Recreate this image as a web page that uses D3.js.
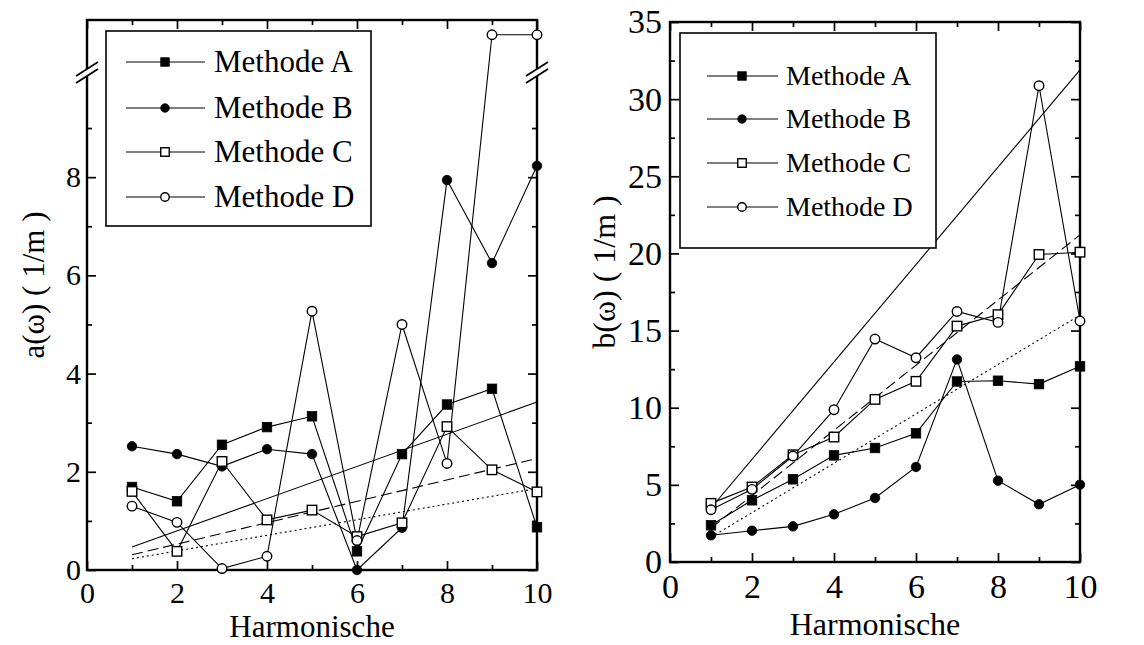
<!DOCTYPE html>
<html>
<head>
<meta charset="utf-8">
<script src="https://cdn.jsdelivr.net/npm/d3@7"></script>
<style>
  html, body { margin: 0; padding: 0; background: #fff; }
  svg { display: block; }
  svg text { font-family: "Liberation Serif", "Times New Roman", Times, Tinos, "DejaVu Serif", serif !important; fill: #000; }
</style>
</head>
<body>
<svg id="chart" width="1144" height="645"></svg>
<script>
// ---------------- data ----------------
const harmonics = [1, 2, 3, 4, 5, 6, 7, 8, 9, 10];
const methods = ["Methode A", "Methode B", "Methode C", "Methode D"];
const markerTypes = ["filledSquare", "filledCircle", "openSquare", "openCircle"];

// left panel: a(ω)
const aMethodA = [1.69, 1.40, 2.55, 2.91, 3.13, 0.38, 2.36, 3.37, 3.69, 0.87];
const aMethodB = [2.52, 2.36, 2.11, 2.46, 2.36, 0.00, 0.86, 7.94, 6.25, 8.23];
const aMethodC = [1.60, 0.38, 2.21, 1.02, 1.22, 0.68, 0.96, 2.92, 2.04, 1.59];
const aMethodD = [1.30, 0.97, 0.03, 0.28, 5.27, 0.60, 5.00, 2.17, 10.9, 10.9];
const aFitSolid = [[1, 0.47], [10, 3.42]];
const aFitDashed = [[1, 0.31], [10, 2.27]];
const aFitDotted = [[1, 0.23], [10, 1.66]];
const aMajorTicks = [0, 2, 4, 6, 8];
const aMinorTicks = [1, 3, 5, 7, 9];

// right panel: b(ω)
const bMethodA = [2.38, 4.00, 5.36, 6.91, 7.39, 8.34, 11.70, 11.75, 11.53, 12.68];
const bMethodB = [1.73, 2.03, 2.31, 3.09, 4.15, 6.16, 13.13, 5.27, 3.74, 5.01];
const bMethodC = [3.80, 4.86, 6.95, 8.10, 10.54, 11.71, 15.29, 16.03, 19.93, 20.08];
const bMethodD = [3.39, 4.71, 6.87, 9.87, 14.45, 13.24, 16.24, 15.53, 30.87, 15.62];
const bFitSolid = [[1, 3.5], [10, 31.9]];
const bFitDashed = [[1, 2.2], [10, 21.2]];
const bFitDotted = [[1, 1.6], [10, 16.0]];
const bMajorTicks = [0, 5, 10, 15, 20, 25, 30, 35];
const bMinorTicks = [2.5, 7.5, 12.5, 17.5, 22.5, 27.5, 32.5];

const xMajorTicks = [0, 2, 4, 6, 8, 10];
const xMinorTicks = [1, 3, 5, 7, 9];

// ---------------- drawing ----------------
const FONT = '"Liberation Serif", "Times New Roman", Times, Tinos, "DejaVu Serif", serif';
const svg = d3.select("#chart");

function drawMarker(g, type, x, y, s) {
  const filled = type.startsWith("filled");
  if (type.endsWith("Square")) {
    g.append("rect").attr("x", x - s / 2).attr("y", y - s / 2)
      .attr("width", s).attr("height", s)
      .attr("fill", filled ? "#000" : "#fff")
      .attr("stroke", "#000").attr("stroke-width", filled ? 0.8 : 1.4);
  } else {
    g.append("circle").attr("cx", x).attr("cy", y).attr("r", s / 2)
      .attr("fill", filled ? "#000" : "#fff")
      .attr("stroke", "#000").attr("stroke-width", filled ? 0.8 : 1.4);
  }
}

function panel(cfg) {
  const g = svg.append("g").attr("font-family", FONT);
  const x = d3.scaleLinear().domain([0, 10]).range([cfg.left, cfg.right]);
  const y = d3.scaleLinear().domain(cfg.yDomain).range([cfg.bottom, cfg.top]);

  const bottomMajor = d3.axisBottom(x).tickValues(xMajorTicks).tickSize(-9).tickPadding(cfg.xPad).tickFormat(d3.format("d"));
  const bottomMinor = d3.axisBottom(x).tickValues(xMinorTicks).tickSize(-5).tickFormat("");
  const topMajor = d3.axisTop(x).tickValues(xMajorTicks).tickSize(-9).tickFormat("");
  const topMinor = d3.axisTop(x).tickValues(xMinorTicks).tickSize(-5).tickFormat("");
  const leftMajor = d3.axisLeft(y).tickValues(cfg.yMajor).tickSize(-9).tickPadding(cfg.yPad).tickFormat(d3.format("d"));
  const leftMinor = d3.axisLeft(y).tickValues(cfg.yMinor).tickSize(-5).tickFormat("");
  const rightMajor = d3.axisRight(y).tickValues(cfg.yMajor).tickSize(-9).tickFormat("");
  const rightMinor = d3.axisRight(y).tickValues(cfg.yMinor).tickSize(-5).tickFormat("");

  const axes = [
    [bottomMajor, `translate(0,${cfg.bottom})`], [bottomMinor, `translate(0,${cfg.bottom})`],
    [topMajor, `translate(0,${cfg.top})`], [topMinor, `translate(0,${cfg.top})`],
    [leftMajor, `translate(${cfg.left},0)`], [leftMinor, `translate(${cfg.left},0)`],
    [rightMajor, `translate(${cfg.right},0)`], [rightMinor, `translate(${cfg.right},0)`]
  ];
  axes.forEach(([ax, tr]) => {
    const a = g.append("g").attr("transform", tr).call(ax);
    a.attr("font-family", FONT).attr("font-size", cfg.tickFont);
    a.select(".domain").remove();
    a.selectAll(".tick line").attr("stroke", "#000").attr("stroke-width", 1.7);
    a.selectAll(".tick text").attr("font-size", cfg.tickFont).attr("fill", "#000");
  });

  g.append("rect").attr("x", cfg.left).attr("y", cfg.top)
    .attr("width", cfg.right - cfg.left).attr("height", cfg.bottom - cfg.top)
    .attr("fill", "none").attr("stroke", "#000").attr("stroke-width", 2.4);

  const line = d3.line().x(d => x(d[0])).y(d => y(d[1]));
  g.append("path").attr("d", line(cfg.fitSolid)).attr("fill", "none").attr("stroke", "#000").attr("stroke-width", 1.1);
  g.append("path").attr("d", line(cfg.fitDashed)).attr("fill", "none").attr("stroke", "#000").attr("stroke-width", 1.1).attr("stroke-dasharray", "11,5");
  g.append("path").attr("d", line(cfg.fitDotted)).attr("fill", "none").attr("stroke", "#000").attr("stroke-width", 1.1).attr("stroke-dasharray", "2,3");

  const sLine = d3.line().x((d, i) => x(harmonics[i])).y(d => y(d));
  cfg.series.forEach(s => {
    g.append("path").attr("d", sLine(s)).attr("fill", "none").attr("stroke", "#000").attr("stroke-width", 1.1);
  });
  cfg.series.forEach((s, k) => {
    s.forEach((v, i) => drawMarker(g, markerTypes[k], x(harmonics[i]), y(v), cfg.markerSize));
  });

  if (cfg.breakAt !== undefined) {
    const yb = y(cfg.breakAt);
    [cfg.left, cfg.right].forEach(x0 => {
      g.append("polygon")
        .attr("points", `${x0 - 11},${yb + 9} ${x0 + 11},${yb - 5} ${x0 + 11},${yb - 12} ${x0 - 11},${yb + 2}`)
        .attr("fill", "#fff");
      g.append("line").attr("x1", x0 - 11).attr("y1", yb + 9).attr("x2", x0 + 11).attr("y2", yb - 5)
        .attr("stroke", "#000").attr("stroke-width", 1.8);
      g.append("line").attr("x1", x0 - 11).attr("y1", yb + 2).attr("x2", x0 + 11).attr("y2", yb - 12)
        .attr("stroke", "#000").attr("stroke-width", 1.8);
    });
  }

  const L = cfg.legend;
  g.append("rect").attr("x", L.x0).attr("y", L.y0).attr("width", L.x1 - L.x0).attr("height", L.y1 - L.y0)
    .attr("fill", "#fff").attr("stroke", "#000").attr("stroke-width", 1.6);
  methods.forEach((m, k) => {
    const ry = L.rows[k];
    g.append("line").attr("x1", L.lx0).attr("x2", L.lx1).attr("y1", ry).attr("y2", ry)
      .attr("stroke", "#000").attr("stroke-width", 1.1);
    drawMarker(g, markerTypes[k], L.mx, ry, L.ms);
    g.append("text").attr("x", L.tx).attr("y", ry + L.font * 0.33)
      .attr("font-family", FONT).attr("font-size", L.font).text(m);
  });

  g.append("text").attr("x", (cfg.left + cfg.right) / 2).attr("y", cfg.xLabelY)
    .attr("text-anchor", "middle").attr("font-family", FONT).attr("font-size", cfg.labelFont).text("Harmonische");
  g.append("text").attr("transform", `translate(${cfg.yLabelX},${cfg.yLabelCY}) rotate(-90)`)
    .attr("text-anchor", "middle").attr("font-family", FONT).attr("font-size", cfg.labelFont).text(cfg.yLabel);
}

panel({
  left: 87, right: 537, top: 20, bottom: 570,
  yDomain: [0, 11.2], yMajor: aMajorTicks, yMinor: aMinorTicks,
  xPad: 12, yPad: 6, tickFont: 30, labelFont: 31,
  series: [aMethodA, aMethodB, aMethodC, aMethodD],
  fitSolid: aFitSolid, fitDashed: aFitDashed, fitDotted: aFitDotted,
  markerSize: 9.5, breakAt: 10.1,
  legend: { x0: 106, y0: 31, x1: 371, y1: 226, rows: [62, 108, 152, 197], lx0: 126, lx1: 205, mx: 165, ms: 8.5, tx: 214, font: 31 },
  xLabelY: 637, yLabelX: 44, yLabelCY: 285, yLabel: "a(ω) ( 1/m )"
});

panel({
  left: 670, right: 1080, top: 22, bottom: 562,
  yDomain: [0, 35], yMajor: bMajorTicks, yMinor: bMinorTicks,
  xPad: 12, yPad: 8, tickFont: 34, labelFont: 32,
  series: [bMethodA, bMethodB, bMethodC, bMethodD],
  fitSolid: bFitSolid, fitDashed: bFitDashed, fitDotted: bFitDotted,
  markerSize: 9.5,
  legend: { x0: 680, y0: 33, x1: 936, y1: 248, rows: [76, 119, 163, 207], lx0: 707, lx1: 778, mx: 742, ms: 8.5, tx: 786, font: 28 },
  xLabelY: 635, yLabelX: 615, yLabelCY: 272, yLabel: "b(ω) ( 1/m )"
});
</script>
</body>
</html>
